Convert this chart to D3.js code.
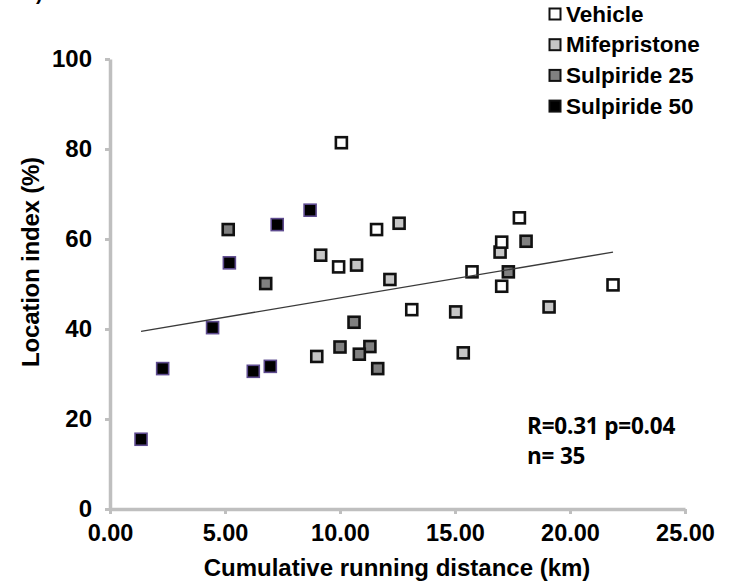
<!DOCTYPE html>
<html>
<head>
<meta charset="utf-8">
<script src="https://cdn.jsdelivr.net/npm/d3@7"></script>
<style>
  html, body { margin: 0; padding: 0; background: #fff; }
  svg { display: block; }
</style>
</head>
<body>
<svg id="chart" width="729" height="586"></svg>
<script>
// Cumulative running distance (km) vs location index (%), one array pair per group
const vehicleX = [10.06, 11.59, 9.94, 17.80, 17.03, 15.74, 17.03, 13.12, 21.87];
const vehicleY = [81.4, 62.1, 53.8, 64.7, 59.3, 52.7, 49.5, 44.3, 49.8];

const mifeX = [10.72, 15.03, 19.09, 8.99, 15.36, 9.16, 12.57, 12.17, 16.96];
const mifeY = [54.2, 43.8, 44.9, 33.9, 34.7, 56.4, 63.5, 51.0, 57.1];

const sulp25X = [5.14, 6.77, 18.09, 17.32, 10.61, 10.00, 11.30, 10.84, 11.64];
const sulp25Y = [62.1, 50.1, 59.5, 52.7, 41.5, 36.0, 36.1, 34.4, 31.2];

const sulp50X = [7.27, 8.70, 5.19, 1.35, 2.29, 4.46, 6.23, 6.97];
const sulp50Y = [63.2, 66.4, 54.7, 15.5, 31.2, 40.3, 30.6, 31.7];

const legendLabels = ["Vehicle", "Mifepristone", "Sulpiride 25", "Sulpiride 50"];
const xTicks = [0, 5, 10, 15, 20, 25];
const yTicks = [0, 20, 40, 60, 80, 100];

// linear fit across all animals
const fitSlope = 0.858;
const fitIntercept = 38.32;
const statsLines = ["R=0.31 p=0.04", "n= 35"];

const svg = d3.select("#chart");
const FONT = "'Liberation Sans', Arial, sans-serif";

const x = d3.scaleLinear().domain([0, 25]).range([110, 685]);
const y = d3.scaleLinear().domain([0, 100]).range([509, 59]);

const axisColor = "#bfbfbf";

// panel heading, clipped by the top edge
svg.append("text")
  .attr("x", 36).attr("y", 0)
  .attr("font-family", FONT).attr("font-weight", "bold").attr("font-size", 20)
  .attr("fill", "#000")
  .text(") Cumulative");

// x axis
const xAxis = svg.append("g")
  .attr("transform", `translate(0,${y(0)})`)
  .call(d3.axisBottom(x).tickValues(xTicks).tickSize(5).tickPadding(10)
    .tickFormat(d3.format(".2f")).tickSizeOuter(0));
xAxis.select(".domain").attr("stroke", axisColor).attr("stroke-width", 3.5);
xAxis.selectAll(".tick line").attr("stroke", axisColor).attr("stroke-width", 3);
xAxis.selectAll(".tick text")
  .attr("font-family", FONT).attr("font-weight", "bold").attr("font-size", 23.5)
  .attr("fill", "#000");

// y axis
const yAxis = svg.append("g")
  .attr("transform", `translate(${x(0)},0)`)
  .call(d3.axisLeft(y).tickValues(yTicks).tickSize(5).tickPadding(13).tickSizeOuter(0));
yAxis.select(".domain").attr("stroke", axisColor).attr("stroke-width", 3.5);
yAxis.selectAll(".tick line").attr("stroke", axisColor).attr("stroke-width", 3);
yAxis.selectAll(".tick text")
  .attr("font-family", FONT).attr("font-weight", "bold").attr("font-size", 24)
  .attr("fill", "#000");

// axis titles
svg.append("text")
  .attr("x", 397).attr("y", 576)
  .attr("text-anchor", "middle")
  .attr("font-family", FONT).attr("font-weight", "bold").attr("font-size", 24)
  .text("Cumulative running distance (km)");

svg.append("text")
  .attr("transform", "translate(39,262) rotate(-90)")
  .attr("text-anchor", "middle")
  .attr("font-family", FONT).attr("font-weight", "bold").attr("font-size", 24)
  .attr("letter-spacing", -0.2)
  .text("Location index (%)");

// markers
const groups = [
  { xs: mifeX, ys: mifeY, fill: "#c6c6c6", stroke: "#111", sw: 2.6, size: 11 },
  { xs: vehicleX, ys: vehicleY, fill: "#ffffff", stroke: "#111", sw: 2.6, size: 11 },
  { xs: sulp25X, ys: sulp25Y, fill: "#808080", stroke: "#111", sw: 2.6, size: 11 },
  { xs: sulp50X, ys: sulp50Y, fill: "#000000", stroke: "#5e4b8f", sw: 1.6, size: 12 }
];

groups.forEach(g => {
  const pts = g.xs.map((v, i) => [v, g.ys[i]]);
  svg.append("g").selectAll("rect").data(pts).join("rect")
    .attr("x", d => x(d[0]) - g.size / 2)
    .attr("y", d => y(d[1]) - g.size / 2)
    .attr("width", g.size).attr("height", g.size)
    .attr("fill", g.fill).attr("stroke", g.stroke).attr("stroke-width", g.sw);
});

// trend line
const allX = vehicleX.concat(mifeX, sulp25X, sulp50X);
const xExt = d3.extent(allX);
svg.append("line")
  .attr("x1", x(xExt[0])).attr("y1", y(fitIntercept + fitSlope * xExt[0]))
  .attr("x2", x(xExt[1])).attr("y2", y(fitIntercept + fitSlope * xExt[1]))
  .attr("stroke", "#3a3a3a").attr("stroke-width", 1.4);

// stats
svg.append("g").selectAll("text").data(statsLines).join("text")
  .attr("x", 527).attr("y", (d, i) => 434 + i * 30)
  .attr("font-family", "'Open Sans', sans-serif").attr("font-weight", 700)
  .attr("font-size", 22.5).attr("letter-spacing", -0.2).attr("fill", "#000")
  .text(d => d);

// legend
const legendFills = ["#ffffff", "#c6c6c6", "#808080", "#000000"];
const legend = svg.append("g");
legendLabels.forEach((lab, i) => {
  const cy = 14 + i * 30.7;
  legend.append("rect")
    .attr("x", 549.5).attr("y", cy - 5.5).attr("width", 11).attr("height", 11)
    .attr("fill", legendFills[i]).attr("stroke", "#111").attr("stroke-width", 2);
  legend.append("text")
    .attr("x", 566).attr("y", cy + 7.5)
    .attr("font-family", FONT).attr("font-weight", "bold").attr("font-size", 22.5)
    .attr("fill", "#000")
    .text(lab);
});
</script>
</body>
</html>
